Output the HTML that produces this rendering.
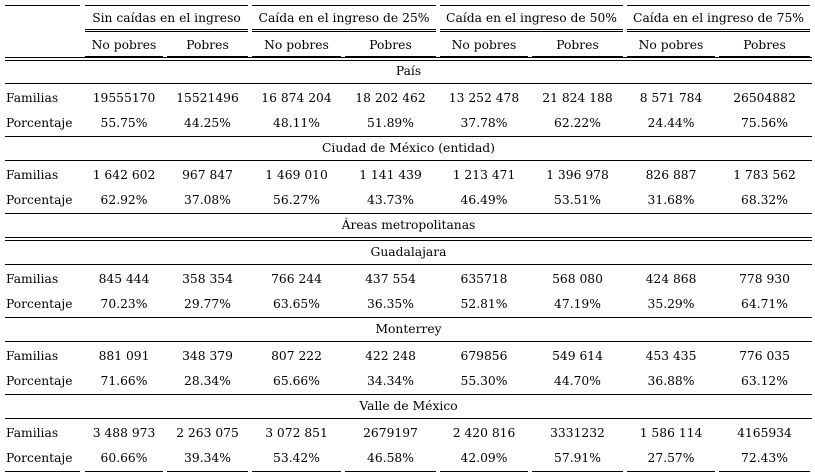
<!DOCTYPE html>
<html><head><meta charset="utf-8"><style>
body{margin:0;background:#fff;}
#t{position:relative;width:815px;height:475px;overflow:hidden;font-family:"DejaVu Serif","Liberation Serif",serif;font-size:12.3px;color:#000;}
.c{position:absolute;height:20px;line-height:20px;text-align:center;white-space:nowrap;}
.l{position:absolute;height:1px;background:#000;}
</style></head><body>
<div id="t"></div>
<script>
const groups=["Sin caídas en el ingreso","Caída en el ingreso de 25%","Caída en el ingreso de 50%","Caída en el ingreso de 75%"];
const sub=["No pobres","Pobres"];
const colB=[83,165,250,343,438,530,625,717,812];
const T=document.getElementById('t');
function txt(x,w,y,s,name,align){const d=document.createElement('div');d.className='c';d.style.left=x+'px';d.style.width=w+'px';d.style.top=(y-10)+'px';d.textContent=s;if(align)d.style.textAlign=align;


T.appendChild(d);}
function line(x1,x2,y,name){const d=document.createElement('div');d.className='l';d.style.left=x1+'px';d.style.width=(x2-x1)+'px';d.style.top=y+'px';


T.appendChild(d);}
function segs(y,name){line(5,80,y,name);for(let i=0;i<8;i++)line(colB[i]+2,colB[i+1]-2,y,name);}
// header
line(5,80,5,'top-rule');for(let g=0;g<4;g++)line(colB[g*2]+2,colB[g*2+2]-2,5,'top-rule');
groups.forEach((g,i)=>{txt(colB[i*2],colB[i*2+2]-colB[i*2],18,g,'group-header');line(colB[i*2]+2,colB[i*2+2]-2,29,'group-rule');line(colB[i*2]+2,colB[i*2+2]-2,31,'group-rule');});
for(let i=0;i<8;i++){txt(colB[i],colB[i+1]-colB[i],45,sub[i%2],'sub-header');line(colB[i]+2,colB[i+1]-2,56,'sub-rule');}
line(5,812,57,'header-rule');line(5,812,60,'header-rule');
const sections=[
 {title:"País",y:71,rows:[["Familias","19555170","15521496","16 874 204","18 202 462","13 252 478","21 824 188","8 571 784","26504882"],["Porcentaje","55.75%","44.25%","48.11%","51.89%","37.78%","62.22%","24.44%","75.56%"]]},
 {title:"Ciudad de México (entidad)",y:148,rows:[["Familias","1 642 602","967 847","1 469 010","1 141 439","1 213 471","1 396 978","826 887","1 783 562"],["Porcentaje","62.92%","37.08%","56.27%","43.73%","46.49%","53.51%","31.68%","68.32%"]]},
 {title:"Áreas metropolitanas",y:225,rows:[],dbl:true},
 {title:"Guadalajara",y:252,rows:[["Familias","845 444","358 354","766 244","437 554","635718","568 080","424 868","778 930"],["Porcentaje","70.23%","29.77%","63.65%","36.35%","52.81%","47.19%","35.29%","64.71%"]]},
 {title:"Monterrey",y:329,rows:[["Familias","881 091","348 379","807 222","422 248","679856","549 614","453 435","776 035"],["Porcentaje","71.66%","28.34%","65.66%","34.34%","55.30%","44.70%","36.88%","63.12%"]]},
 {title:"Valle de México",y:406,rows:[["Familias","3 488 973","2 263 075","3 072 851","2679197","2 420 816","3331232","1 586 114","4165934"],["Porcentaje","60.66%","39.34%","53.42%","46.58%","42.09%","57.91%","27.57%","72.43%"]]}
];
sections.forEach((s,si)=>{
 txt(5,807,s.y,s.title,'section-title');
 if(s.dbl){line(5,812,s.y+12,'section-rule');line(5,812,s.y+15,'section-rule');}
 else line(5,812,s.y+12,'section-rule');
 s.rows.forEach((r,ri)=>{const y=s.y+27+ri*25;
  txt(6,80,y,r[0],'row-label','left');
  for(let i=0;i<8;i++)txt(colB[i],colB[i+1]-colB[i],y,r[i+1],'cell');});
 if(s.rows.length){const y=s.y+65;if(si===sections.length-1)segs(y,'bottom-rule');else line(5,812,y,'row-rule');}
});
</script>
</body></html>
